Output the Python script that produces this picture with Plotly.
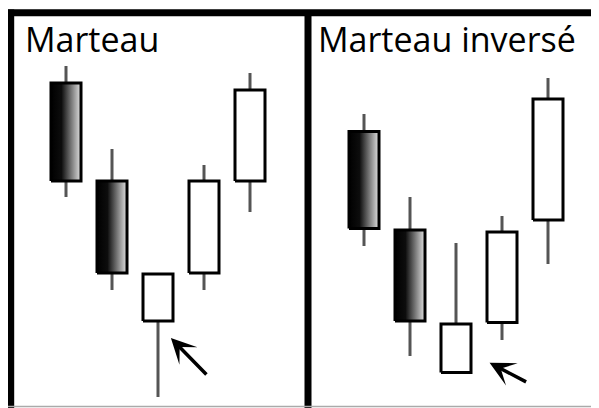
import plotly.graph_objects as go

# the page body has an 8px margin, so the figure is 8px smaller on each side
OFF = 8
W, H = 599 - OFF, 408 - OFF

# candle data (arbitrary price units)
days = [1, 2, 3, 4, 5]

hammer_open = [32.5, 22.7, 8.7, 13.5, 22.7]
hammer_close = [22.7, 13.5, 13.4, 22.7, 31.8]
hammer_high = [34.2, 25.9, 13.4, 24.3, 33.5]
hammer_low = [21.1, 11.8, 1.1, 11.8, 19.6]

inv_open = [27.65, 17.8, 3.55, 8.55, 18.8]
inv_close = [17.95, 8.7, 8.4, 17.6, 30.9]
inv_high = [29.4, 21.1, 16.5, 19.2, 33.0]
inv_low = [16.2, 5.2, 3.55, 6.8, 14.4]

titles = ["Marteau", "Marteau inversé"]

WICK = "#555555"
HALF = 0.326  # half body width in day units
DARK_FILL = dict(type="horizontal",
                 colorscale=[[0, "#000000"], [0.35, "#0d0d0d"], [1, "#e2e2e2"]])


def px(x):
    return (x - OFF) / W


def py(y):
    return 1 - (y - OFF) / H


def add_candles(fig, o, c, h, l, xref):
    for d, op, cl, hi, lo in zip(days, o, c, h, l):
        fig.add_trace(go.Scatter(
            x=[d, d], y=[lo, hi], mode="lines", xaxis=xref, yaxis="y",
            line=dict(color=WICK, width=3), hoverinfo="skip", showlegend=False,
        ))
        bot, top = min(op, cl), max(op, cl)
        body = dict(
            x=[d - HALF, d + HALF, d + HALF, d - HALF, d - HALF],
            y=[bot, bot, top, top, bot],
            mode="lines", fill="toself", xaxis=xref, yaxis="y",
            line=dict(color="black", width=3), hoverinfo="skip", showlegend=False,
        )
        if cl < op:
            body["fillgradient"] = DARK_FILL
        else:
            body["fillcolor"] = "white"
        fig.add_trace(go.Scatter(**body))


fig = go.Figure()
add_candles(fig, hammer_open, hammer_close, hammer_high, hammer_low, "x")
add_candles(fig, inv_open, inv_close, inv_high, inv_low, "x2")

split = px(308)
ax = dict(showgrid=False, zeroline=False, showticklabels=False, ticks="",
          showline=False, fixedrange=True)
fig.update_layout(
    width=W, height=H,
    margin=dict(l=0, r=0, t=0, b=0),
    paper_bgcolor="white", plot_bgcolor="white",
    xaxis=dict(domain=[0, split], range=[1 - 58 / 46, 1 - 58 / 46 + 300 / 46], **ax),
    xaxis2=dict(domain=[split, 1], range=[1 - 56 / 46, 1 - 56 / 46 + 291 / 46], **ax),
    yaxis=dict(domain=[0, 1], range=[0, 40.0], **ax),
    font=dict(family="Open Sans", color="black"),
)

# panel frame
frame = dict(type="line", xref="paper", yref="paper", line=dict(color="black", width=7))
fig.add_shape(x0=px(10.7), x1=px(10.7), y0=0, y1=py(9.5), **frame)
fig.add_shape(x0=px(7.5), x1=1, y0=py(12.7), y1=py(12.7), **frame)
fig.add_shape(x0=split, x1=split, y0=0, y1=py(12.7), **frame)
fig.add_shape(type="line", xref="paper", yref="paper", x0=0, x1=1,
              y0=py(406.5), y1=py(406.5), line=dict(color="#aaaaaa", width=1.5))

# panel titles
fig.add_annotation(text=titles[0], xref="paper", yref="paper", x=px(23), y=py(39),
                   xanchor="left", yanchor="middle", showarrow=False, font=dict(size=34))
fig.add_annotation(text=titles[1], xref="paper", yref="paper", x=px(316), y=py(39),
                   xanchor="left", yanchor="middle", showarrow=False, font=dict(size=34))

# arrows pointing at the pattern candle
arrow = dict(showarrow=True, arrowhead=3, arrowsize=1.2, arrowwidth=3.5,
             arrowcolor="black", text="", axref="pixel", ayref="pixel")
fig.add_annotation(x=3.28, y=7.0, xref="x", yref="y", ax=37, ay=38, **arrow)
fig.add_annotation(x=3.73, y=4.53, xref="x2", yref="y", ax=38, ay=20, **arrow)

fig.write_html("out.html")
